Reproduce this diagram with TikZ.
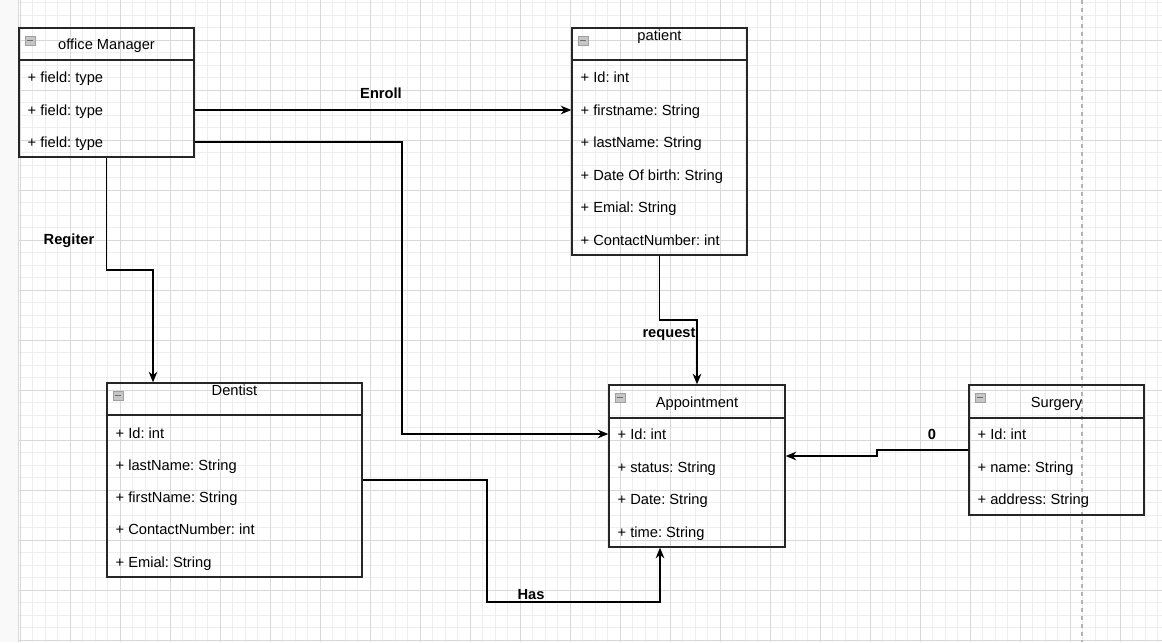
\documentclass[tikz,border=0pt]{standalone}
\usepackage{fontspec}
\setmainfont{Liberation Sans}
\frenchspacing
\usetikzlibrary{arrows.meta,fit}

\definecolor{minorgrid}{RGB}{238,238,238}
\definecolor{majorgrid}{RGB}{216,216,216}

\tikzset{every picture/.style={line width=1pt}}
\tikzset{
  classbox/.style={draw=black!85,inner sep=0pt},
  title/.style={inner sep=0.75pt,text height=8pt,text depth=0pt,font=\fontsize{11}{13}\selectfont},
  field/.style={anchor=west,inner sep=0.75pt,text height=8pt,text depth=0pt,font=\fontsize{11}{13}\selectfont},
  lbl/.style={inner sep=0.75pt,text height=8pt,text depth=0pt,font=\fontsize{11}{13}\selectfont\bfseries},
  assoc/.style={draw=black,line width=1pt,-{Stealth[length=8pt,width=6.5pt]}},
}

% collapse icon of a class box
\newcommand{\minusicon}[2]{%
  \draw[fill=gray!45,draw=gray!75,line width=0.6pt] (#1,#2) rectangle ++(10,9);
  \draw[gray!85!black,line width=1pt] (#1+2,#2+4.5) -- (#1+8,#2+4.5);}

\begin{document}
\begin{tikzpicture}[x=0.75pt,y=0.75pt,yscale=-1,xscale=1]
\useasboundingbox (0,0) rectangle (1162,642);

%Canvas grid
\fill[gray!5] (0,0) rectangle (18,642);
\foreach \x in {20,32.5,...,1160} \draw[minorgrid,line width=0.6pt] (\x,0) -- (\x,642);
\foreach \y in {2.5,15,...,640} \draw[minorgrid,line width=0.6pt] (18,\y) -- (1162,\y);
\foreach \x in {20,70,...,1120} \draw[majorgrid,line width=0.6pt] (\x,0) -- (\x,642);
\foreach \y in {40,90,...,640} \draw[majorgrid,line width=0.6pt] (18,\y) -- (1162,\y);
\draw[gray!30,line width=0.6pt] (18,0) -- (18,642);
%Page break
\draw[gray!60,dashed,line width=0.8pt] (1082,0) -- (1082,642);

%Class: office Manager
\node[classbox,fit={(19,28) (194,157)}] (om) {};
\draw[black!85] (19,60) -- (194,60);
\minusicon{25}{36}
\node[title] (omTitle) at (106.5,44) {office Manager};
\node[field] (omF1) at (26,77) {+ field: type};
\node[field] (omF2) at (26,110) {+ field: type};
\node[field] (omF3) at (26,142) {+ field: type};

%Class: patient
\node[classbox,fit={(572,28) (747,255)}] (pat) {};
\draw[black!85] (572,60) -- (747,60);
\minusicon{578}{36}
\node[title] (patTitle) at (659.5,35) {patient};
\node[field] (patF1) at (579,77) {+ Id: int};
\node[field] (patF2) at (579,110) {+ firstname: String};
\node[field] (patF3) at (579,142) {+ lastName: String};
\node[field] (patF4) at (579,175) {+ Date Of birth: String};
\node[field] (patF5) at (579,207) {+ Emial: String};
\node[field] (patF6) at (579,240) {+ ContactNumber: int};

%Class: Dentist
\node[classbox,fit={(107,383) (362,577)}] (den) {};
\draw[black!85] (107,415) -- (362,415);
\minusicon{113}{391}
\node[title] (denTitle) at (234.5,390) {Dentist};
\node[field] (denF1) at (114,433) {+ Id: int};
\node[field] (denF2) at (114,465) {+ lastName: String};
\node[field] (denF3) at (114,497) {+ firstName: String};
\node[field] (denF4) at (114,529) {+ ContactNumber: int};
\node[field] (denF5) at (114,562) {+ Emial: String};

%Class: Appointment
\node[classbox,fit={(609,385) (785,547)}] (app) {};
\draw[black!85] (609,418) -- (785,418);
\minusicon{615}{393}
\node[title] (appTitle) at (697,402) {Appointment};
\node[field] (appF1) at (616,434) {+ Id: int};
\node[field] (appF2) at (616,467) {+ status: String};
\node[field] (appF3) at (616,499) {+ Date: String};
\node[field] (appF4) at (616,532) {+ time: String};

%Class: Surgery
\node[classbox,fit={(969,385) (1144,515)}] (sur) {};
\draw[black!85] (969,418) -- (1144,418);
\minusicon{975}{393}
\node[title] (surTitle) at (1056.5,402) {Surgery};
\node[field] (surF1) at (976,434) {+ Id: int};
\node[field] (surF2) at (976,467) {+ name: String};
\node[field] (surF3) at (976,499) {+ address: String};

%Bend points
\coordinate (bendA) at (402,142);
\coordinate (bendB) at (153,270);
\coordinate (bendC) at (697,320);
\coordinate (hasA) at (487,602);
\coordinate (hasB) at (660,602);
\coordinate (bendE) at (877,456);

%Connectors
\draw[assoc] (om.east |- omF2) -- (pat.west |- omF2);
\draw[assoc] (om.east |- omF3) -- (bendA) |- (app.west |- appF1);
\draw[assoc] (om.south) |- (bendB) -- (den.north -| bendB);
\draw[assoc] (pat.south) |- (bendC) -- (app.north -| bendC);
\draw[assoc] (den.east) -| (hasA) -- (hasB) -- (app.south -| hasB);
\draw[assoc] (sur.west) -| (bendE) -- (app.east |- bendE);

% Text Node
\node[lbl] (lblEnroll) at (381,93) {Enroll};
% Text Node
\node[lbl] (lblRegiter) at (69,239) {Regiter};
% Text Node
\node[lbl] (lblRequest) at (669,332) {request};
% Text Node
\node[lbl] (lblHas) at (531,594) {Has};
% Text Node
\node[lbl] (lblZero) at (932,434) {0};

\end{tikzpicture}
\end{document}
